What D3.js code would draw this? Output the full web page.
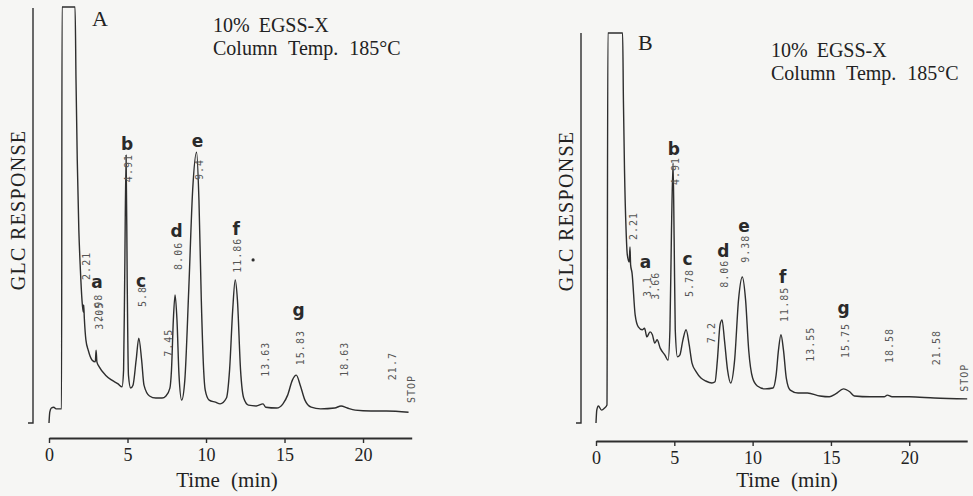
<!DOCTYPE html>
<html>
<head>
<meta charset="utf-8">
<script src="https://cdn.jsdelivr.net/npm/d3@7"></script>
<style>
  body { margin: 0; background: #f6f6f4; }
  svg { display: block; }
</style>
</head>
<body>
<div id="chart"></div>
<script>
// tick labels of the time axis (min)
const timeTicks = [0, 5, 10, 15, 20];
const peakNames = ["a", "b", "c", "d", "e", "f", "g"];

// chromatogram A : time (min) / detector response (% of full scale)
const traceATime = [0, 0.05, 0.15, 0.3, 0.45, 0.8, 0.83, 1.66, 1.72, 1.8, 1.9, 2.0, 2.1, 2.18, 2.21, 2.25,
  2.35, 2.5, 2.75, 2.95, 3.0, 3.05, 3.2, 3.6, 4.0, 4.4, 4.65, 4.75, 4.82, 4.91, 4.98, 5.06, 5.2, 5.35,
  5.55, 5.72, 5.9, 6.05, 6.4, 6.8, 7.2, 7.45, 7.7, 7.8, 7.92, 8.03, 8.15, 8.28, 8.45, 8.65, 8.9, 9.15,
  9.4, 9.55, 9.7, 9.85, 9.95, 10.2, 10.6, 10.9, 11.3, 11.5, 11.7, 11.86, 12.0, 12.2, 12.4, 12.7, 13.2,
  13.63, 13.8, 14.5, 14.9, 15.2, 15.5, 15.75, 16.0, 16.3, 16.7, 17.3, 18.2, 18.6, 19.0, 19.5, 20.5, 21.5, 22.9];
const traceAResp = [0, 2.6, 3.6, 3.8, 3.4, 3.4, 100, 100, 82.5, 63.2, 46.4, 36.8, 29.6, 26.7, 28.4, 25.2,
  20.0, 17.5, 15.1, 14.7, 17.5, 14.7, 13.5, 11.5, 10.3, 9.4, 8.7, 12.7, 34.4, 64.4, 34.4, 11.5, 8.4, 9.1,
  15.1, 20.4, 15.1, 9.1, 6.5, 6.0, 6.0, 6.5, 8.4, 12.7, 24.8, 30.8, 24.8, 11.5, 5.5, 10.3, 32.0, 56.0,
  65.1, 53.6, 29.6, 12.7, 7.9, 5.5, 5.0, 4.6, 6.0, 12.7, 27.2, 34.4, 29.6, 12.7, 6.0, 4.3, 4.1,
  4.6, 3.8, 3.6, 4.6, 6.7, 10.3, 11.5, 9.1, 5.5, 3.8, 3.4, 3.6, 4.1, 3.6, 3.1, 2.9, 2.9, 2.6];

// peak letters A
const peakATime = [3.0, 4.91, 5.8, 8.06, 9.4, 11.86, 15.83];
const peakALevel = [32.5, 65.6, 32.7, 44.7, 66.3, 45.2, 25.7];

// integrator print-out A
const rtAText = ["2.21", "2.98", "3.05", "4.91", "5.8", "7.45", "8.06", "9.4", "11.86", "13.63", "15.83", "18.63", "21.7", "STOP"];
const rtATime = [2.21, 2.98, 3.05, 4.91, 5.8, 7.45, 8.06, 9.4, 11.86, 13.63, 15.83, 18.63, 21.7, 22.9];
const rtALevel = [34.4, 24.3, 22.4, 57.9, 27.9, 15.9, 36.8, 58.4, 36.1, 11.1, 13.9, 11.1, 10.3, 4.8];
const strayDotA = [13.0, 39.2];

// chromatogram B
const traceBTime = [0, 0.05, 0.15, 0.35, 0.55, 0.7, 0.76, 1.7, 1.75, 1.82, 1.92, 2.0, 2.12, 2.17, 2.21,
  2.3, 2.5, 2.7, 2.95, 3.1, 3.25, 3.45, 3.6, 3.75, 3.9, 4.1, 4.4, 4.6, 4.72, 4.82, 4.92, 4.99, 5.06, 5.2,
  5.35, 5.55, 5.75, 5.95, 6.13, 6.4, 6.7, 7.0, 7.4, 7.6, 7.75, 7.92, 8.05, 8.2, 8.4, 8.6, 8.85, 9.1,
  9.34, 9.55, 9.75, 10.0, 10.3, 10.8, 11.3, 11.5, 11.65, 11.81, 11.97, 12.15, 12.4, 12.9, 13.5, 14.3,
  14.9, 15.3, 15.8, 16.2, 16.5, 17.5, 18.4, 18.6, 18.9, 20.0, 21.6, 23.7];
const traceBResp = [0, 3.1, 4.1, 3.1, 3.6, 4.3, 93.75, 93.75, 77.6, 60.8, 46.4, 40.4, 38.7, 42.3, 38.0,
  36.1, 26.0, 23.1, 22.4, 22.8, 20.7, 21.9, 21.2, 19.2, 20.0, 18.0, 16.3, 15.1, 22.4, 46.4, 62.5, 44.0, 22.4, 15.9,
  16.3, 20.0, 22.4, 18.8, 14.4, 12.3, 10.8, 10.1, 9.6, 9.9, 15.1, 23.6, 24.8, 20.0, 12.7, 9.6, 15.1, 29.6,
  35.1, 29.6, 17.5, 10.8, 8.9, 8.2, 8.4, 11.5, 17.5, 21.2, 17.5, 10.8, 7.9, 7.2, 7.2, 6.5,
  6.3, 7.0, 8.2, 7.5, 6.5, 6.3, 6.3, 6.7, 6.3, 6.3, 6.0, 5.8];

const peakBTime = [3.1, 4.91, 5.78, 8.06, 9.38, 11.85, 15.75];
const peakBLevel = [37.3, 64.4, 38.0, 39.9, 45.9, 33.7, 26.2];

const rtBText = ["2.21", "3.1", "3.66", "4.91", "5.78", "7.2", "8.06", "9.38", "11.85", "13.55", "15.75", "18.58", "21.58", "STOP"];
const rtBTime = [2.21, 3.1, 3.66, 4.91, 5.78, 7.2, 8.06, 9.38, 11.85, 13.55, 15.75, 18.58, 21.58, 23.35];
const rtBLevel = [44.0, 30.3, 29.6, 57.2, 30.3, 19.2, 32.5, 38.5, 24.3, 14.7, 15.6, 14.4, 13.9, 7.5];

const W = 973, H = 496;
const ink = "#2e2e2e";
const serif = "'Liberation Serif', 'DejaVu Serif', serif";

const svg = d3.select("#chart").append("svg")
    .attr("width", W)
    .attr("height", H);

svg.append("rect").attr("width", W).attr("height", H).attr("fill", "#f6f6f4");

// response scale shared by both recordings
const yScale = d3.scaleLinear().domain([0, 100]).range([423, 7]);

function drawPanel(p) {
    const xScale = d3.scaleLinear().domain([0, p.tEnd]).range([p.x0, p.x1]);
    const g = svg.append("g");

    // recorder frame line with its little foot
    g.append("path")
        .attr("d", `M${p.frameX - 5},${yScale(0)}H${p.frameX}V${p.frameTop}`)
        .attr("fill", "none")
        .attr("stroke", ink)
        .attr("stroke-width", 1.4);

    // time axis
    const xAxis = d3.axisBottom(xScale)
        .tickValues(timeTicks)
        .tickSize(5)
        .tickSizeOuter(0)
        .tickPadding(5);
    const ax = g.append("g")
        .attr("transform", `translate(0,${p.axisY})`)
        .call(xAxis);
    ax.select(".domain").attr("stroke", ink).attr("stroke-width", 1.8);
    ax.selectAll(".tick line").attr("stroke", ink).attr("stroke-width", 1.4);
    ax.selectAll(".tick text")
        .attr("fill", "#222")
        .style("font-family", serif)
        .style("font-size", "18px");

    g.append("text")
        .attr("x", p.labelX)
        .attr("y", 487)
        .attr("text-anchor", "middle")
        .style("font-family", serif)
        .style("font-size", "21px")
        .style("word-spacing", "6px")
        .attr("fill", "#222")
        .text("Time (min)");

    g.append("text")
        .attr("transform", `translate(${p.frameX - 8},${p.respY}) rotate(-90)`)
        .attr("text-anchor", "middle")
        .style("font-family", serif)
        .style("font-size", "20px")
        .style("letter-spacing", "1.3px")
        .attr("fill", "#222")
        .text("GLC RESPONSE");

    // panel letter and conditions
    g.append("text")
        .attr("x", p.letterX).attr("y", p.letterY)
        .style("font-family", serif).style("font-size", "22px")
        .attr("fill", "#222")
        .text(p.name);
    g.append("text")
        .attr("x", p.condX).attr("y", p.condY)
        .style("font-family", serif).style("font-size", "20px")
        .style("word-spacing", "4px")
        .attr("fill", "#222")
        .text("10% EGSS-X");
    g.append("text")
        .attr("x", p.condX).attr("y", p.condY + 23)
        .style("font-family", serif).style("font-size", "20px")
        .style("word-spacing", "6px")
        .attr("fill", "#222")
        .text("Column Temp. 185°C");

    // pen trace
    const pts = p.time.map((t, i) => [t, p.resp[i]]);
    const line = d3.line()
        .x(d => xScale(d[0]))
        .y(d => yScale(d[1]))
        .curve(d3.curveMonotoneX);
    g.append("path")
        .datum(pts)
        .attr("d", line)
        .attr("fill", "none")
        .attr("stroke", ink)
        .attr("stroke-width", 1.4)
        .attr("stroke-linejoin", "round");

    // printed retention times
    g.selectAll("text.rt")
        .data(p.rtText)
        .enter().append("text")
        .attr("class", "rt")
        .attr("transform", (d, i) => `translate(${xScale(p.rtTime[i]) + 6},${yScale(p.rtLevel[i])}) rotate(-90)`)
        .style("font-family", "'DejaVu Sans Mono', monospace")
        .style("font-size", "10px")
        .style("letter-spacing", "1px")
        .attr("fill", "#555")
        .text(d => d);

    // peak letters
    g.selectAll("text.peak")
        .data(peakNames)
        .enter().append("text")
        .attr("class", "peak")
        .attr("x", (d, i) => xScale(p.peakTime[i]) + 1)
        .attr("y", (d, i) => yScale(p.peakLevel[i]))
        .attr("text-anchor", "middle")
        .style("font-family", "'DejaVu Sans', sans-serif")
        .style("font-weight", "700")
        .style("font-size", "17px")
        .attr("fill", "#2a2a2a")
        .text(d => d);

    return {g, xScale};
}

const panelA = drawPanel({
    name: "A", tEnd: 23.1, x0: 49, x1: 411.7, axisY: 438,
    frameX: 33, frameTop: 8, labelX: 227, respY: 210,
    letterX: 92, letterY: 26, condX: 213, condY: 32,
    time: traceATime, resp: traceAResp,
    peakTime: peakATime, peakLevel: peakALevel,
    rtText: rtAText, rtTime: rtATime, rtLevel: rtALevel
});

panelA.g.append("circle")
    .attr("cx", panelA.xScale(strayDotA[0]))
    .attr("cy", yScale(strayDotA[1]))
    .attr("r", 1.6)
    .attr("fill", ink);

drawPanel({
    name: "B", tEnd: 23.7, x0: 596, x1: 967.2, axisY: 441,
    frameX: 581, frameTop: 33, labelX: 787, respY: 211,
    letterX: 638, letterY: 50, condX: 771, condY: 57,
    time: traceBTime, resp: traceBResp,
    peakTime: peakBTime, peakLevel: peakBLevel,
    rtText: rtBText, rtTime: rtBTime, rtLevel: rtBLevel
});
</script>
</body>
</html>
